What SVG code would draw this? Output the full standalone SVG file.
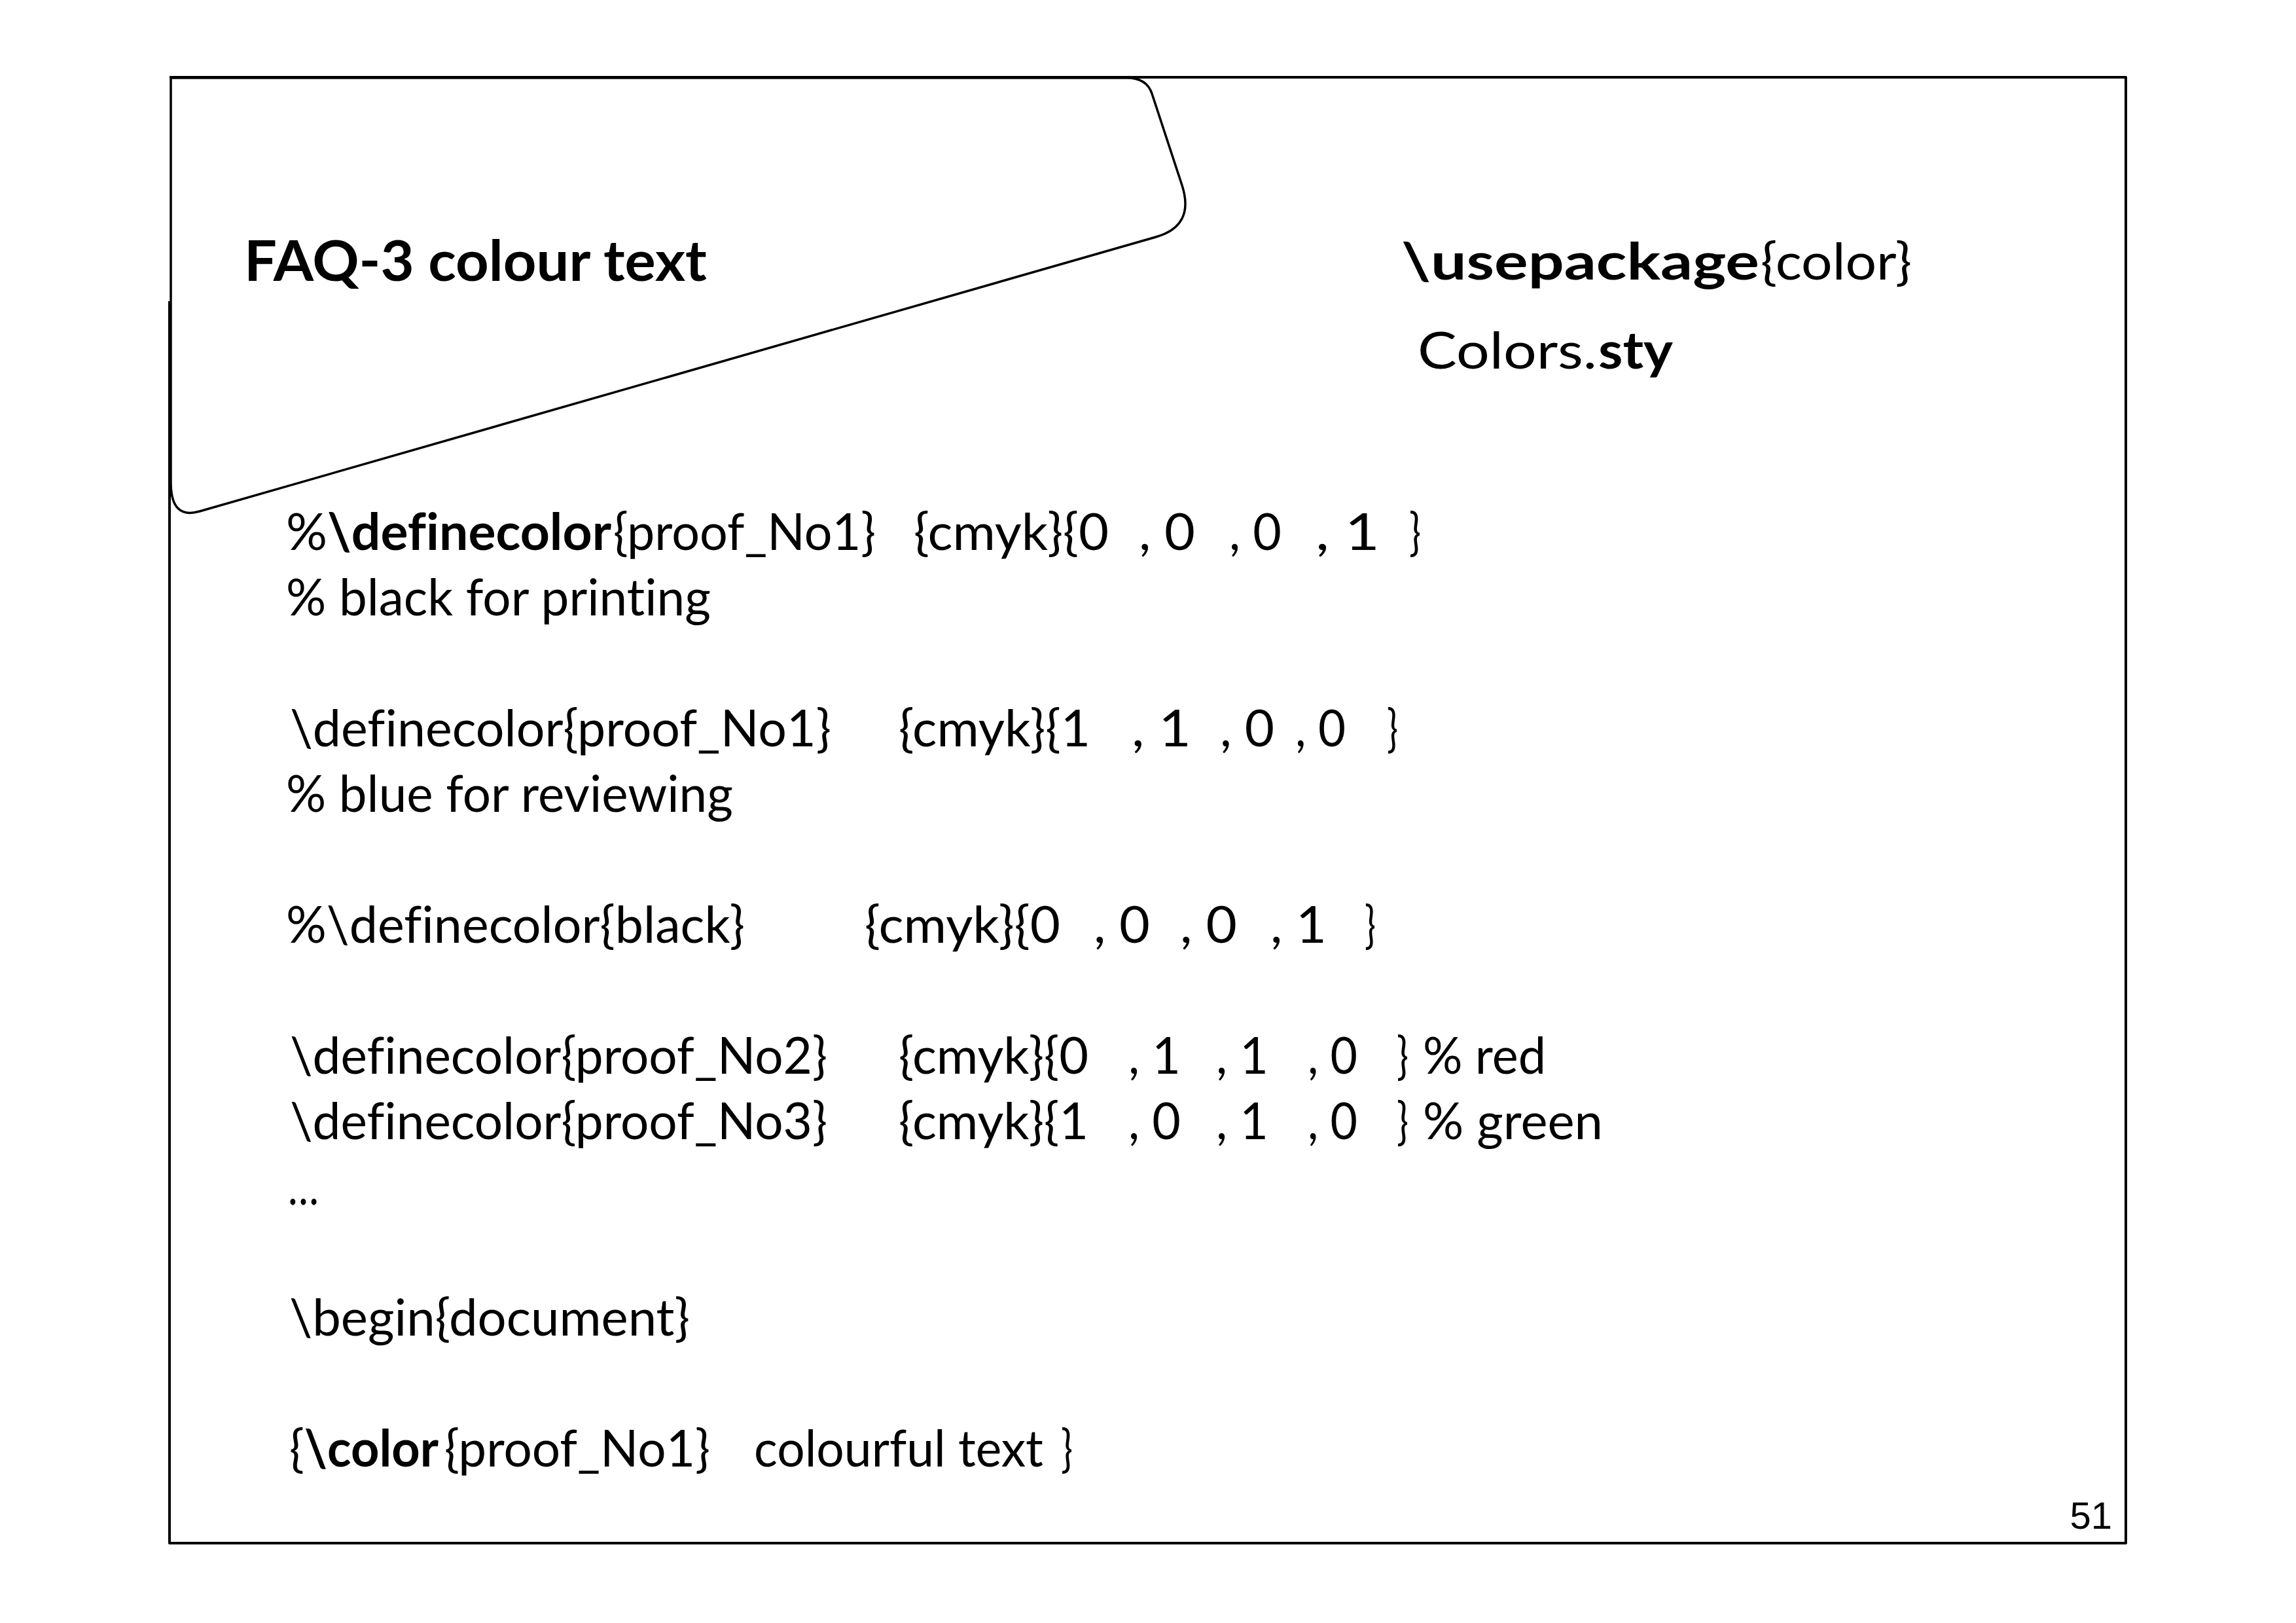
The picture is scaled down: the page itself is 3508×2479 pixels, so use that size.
<svg xmlns="http://www.w3.org/2000/svg" width="3508" height="2479" viewBox="0 0 3508 2479" xml:space="preserve">
<style>
.t{font-family:Lato,'Open Sans','Liberation Sans',sans-serif;font-size:78px;fill:#000;white-space:pre;font-variant-ligatures:none;font-feature-settings:"liga" 0}
.b{font-weight:700}
.ttl{font-size:87px;font-weight:700}
.num{font-family:'Liberation Sans',Arial,sans-serif;font-size:58px;fill:#000}
.ln{fill:none;stroke:#000;stroke-width:4;stroke-linejoin:round}
.shape{fill:#fff;stroke:#000;stroke-width:3.5;stroke-linejoin:round}
</style>
<rect width="3508" height="2479" fill="#fff"/>
<g id="frame">
<path class="ln" d="M259,460 V2357 H3248 V118 H259"/>
</g>
<g id="title-shape">
<path class="shape" d="M261,737 V119 H1722 Q1752,119 1760,143 L1806,283 Q1826,345 1766,362 L305,781 Q261,794 261,737 Z"/>
<text class="t ttl" x="373" y="429" textLength="707" lengthAdjust="spacingAndGlyphs">FAQ-3 colour text</text>
</g>
<g id="package">
<text class="t b" x="2141" y="427" textLength="547" lengthAdjust="spacingAndGlyphs">\usepackage</text>
<text class="t" x="2690" y="427" textLength="231" lengthAdjust="spacingAndGlyphs">{color}</text>
<text class="t" x="2166" y="563" textLength="274" lengthAdjust="spacingAndGlyphs">Colors.</text>
<text class="t b" x="2442" y="563" textLength="114" lengthAdjust="spacingAndGlyphs">sty</text>
</g>
<g id="code">
<g id="line1">
<text class="t" x="437" y="840" textLength="497" lengthAdjust="spacingAndGlyphs">%<tspan class="b">\definecolor</tspan></text>
<text class="t" x="937" y="840" textLength="401" lengthAdjust="spacingAndGlyphs">{proof_No1}</text>
<text class="t" x="1396" y="840" textLength="298" lengthAdjust="spacingAndGlyphs">{cmyk}{0</text>
<text class="t" x="1740" y="840" textLength="86" lengthAdjust="spacingAndGlyphs">, 0</text>
<text class="t" x="1878" y="840" textLength="80" lengthAdjust="spacingAndGlyphs">, 0</text>
<text class="t" x="2010" y="840" textLength="98" lengthAdjust="spacingAndGlyphs">, 1</text>
<text class="t" x="2153" y="840" textLength="18" lengthAdjust="spacingAndGlyphs">}</text>
</g>
<text id="line2" class="t" x="437" y="940" textLength="649" lengthAdjust="spacingAndGlyphs">% black for printing</text>
<g id="line3">
<text class="t" x="443" y="1140" textLength="827" lengthAdjust="spacingAndGlyphs">\definecolor{proof_No1}</text>
<text class="t" x="1373" y="1140" textLength="293" lengthAdjust="spacingAndGlyphs">{cmyk}{1</text>
<text class="t" x="1729" y="1140" textLength="91" lengthAdjust="spacingAndGlyphs">, 1</text>
<text class="t" x="1864" y="1140" textLength="83" lengthAdjust="spacingAndGlyphs">, 0</text>
<text class="t" x="1979" y="1140" textLength="77" lengthAdjust="spacingAndGlyphs">, 0</text>
<text class="t" x="2119" y="1140" textLength="17" lengthAdjust="spacingAndGlyphs">}</text>
</g>
<text id="line4" class="t" x="437" y="1240" textLength="683" lengthAdjust="spacingAndGlyphs">% blue for reviewing</text>
<g id="line5">
<text class="t" x="437" y="1440" textLength="701" lengthAdjust="spacingAndGlyphs">%\definecolor{black}</text>
<text class="t" x="1321" y="1440" textLength="299" lengthAdjust="spacingAndGlyphs">{cmyk}{0</text>
<text class="t" x="1671" y="1440" textLength="86" lengthAdjust="spacingAndGlyphs">, 0</text>
<text class="t" x="1803" y="1440" textLength="87" lengthAdjust="spacingAndGlyphs">, 0</text>
<text class="t" x="1941" y="1440" textLength="86" lengthAdjust="spacingAndGlyphs">, 1</text>
<text class="t" x="2085" y="1440" textLength="17" lengthAdjust="spacingAndGlyphs">}</text>
</g>
<g id="line6">
<text class="t" x="443" y="1640" textLength="821" lengthAdjust="spacingAndGlyphs">\definecolor{proof_No2}</text>
<text class="t" x="1373" y="1640" textLength="290" lengthAdjust="spacingAndGlyphs">{cmyk}{0</text>
<text class="t" x="1724" y="1640" textLength="80" lengthAdjust="spacingAndGlyphs">, 1</text>
<text class="t" x="1858" y="1640" textLength="80" lengthAdjust="spacingAndGlyphs">, 1</text>
<text class="t" x="1998" y="1640" textLength="76" lengthAdjust="spacingAndGlyphs">, 0</text>
<text class="t" x="2134" y="1640" textLength="18" lengthAdjust="spacingAndGlyphs">}</text>
<text class="t" x="2174" y="1640" textLength="188" lengthAdjust="spacingAndGlyphs">% red</text>
</g>
<g id="line7">
<text class="t" x="443" y="1740" textLength="821" lengthAdjust="spacingAndGlyphs">\definecolor{proof_No3}</text>
<text class="t" x="1373" y="1740" textLength="290" lengthAdjust="spacingAndGlyphs">{cmyk}{1</text>
<text class="t" x="1724" y="1740" textLength="80" lengthAdjust="spacingAndGlyphs">, 0</text>
<text class="t" x="1858" y="1740" textLength="80" lengthAdjust="spacingAndGlyphs">, 1</text>
<text class="t" x="1998" y="1740" textLength="76" lengthAdjust="spacingAndGlyphs">, 0</text>
<text class="t" x="2134" y="1740" textLength="18" lengthAdjust="spacingAndGlyphs">}</text>
<text class="t" x="2174" y="1740" textLength="275" lengthAdjust="spacingAndGlyphs">% green</text>
</g>
<text id="line8" class="t" x="440" y="1840" textLength="47" lengthAdjust="spacingAndGlyphs">…</text>
<text id="line9" class="t" x="442" y="2040" textLength="612" lengthAdjust="spacingAndGlyphs">\begin{document}</text>
<g id="line10">
<text class="t" x="442" y="2240" textLength="228" lengthAdjust="spacingAndGlyphs">{<tspan class="b">\color</tspan></text>
<text class="t" x="679" y="2240" textLength="406" lengthAdjust="spacingAndGlyphs">{proof_No1}</text>
<text class="t" x="1152" y="2240" textLength="442" lengthAdjust="spacingAndGlyphs">colourful text</text>
<text class="t" x="1621" y="2240" textLength="18" lengthAdjust="spacingAndGlyphs">}</text>
</g>
</g>
<g id="page-number">
<text class="num" x="3227" y="2335" text-anchor="end">51</text>
</g>
</svg>
